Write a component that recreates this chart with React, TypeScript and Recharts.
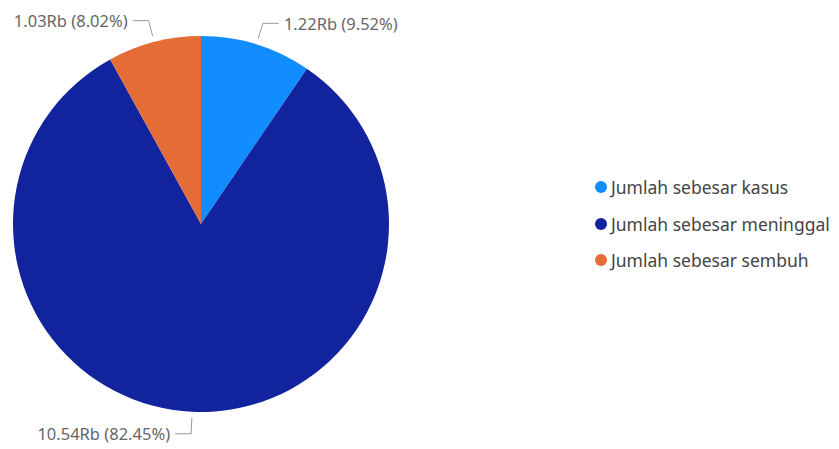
import React from "react";
import { PieChart, Pie, Cell, Legend } from "recharts";

const categories = [
  "Jumlah sebesar kasus",
  "Jumlah sebesar meninggal",
  "Jumlah sebesar sembuh",
];
const values = [1218, 10544, 1026];
const colors = ["#118DFF", "#12239E", "#E66C37"];

const data = categories.map((name, i) => ({ name, value: values[i] }));
const total = values.reduce((a, b) => a + b, 0);

const RADIAN = Math.PI / 180;

const renderLabel = (props: any) => {
  const { cx, cy, midAngle, outerRadius, value } = props;
  const cos = Math.cos(-midAngle * RADIAN);
  const sin = Math.sin(-midAngle * RADIAN);
  const sx = cx + (outerRadius + 6) * cos;
  const sy = cy + (outerRadius + 6) * sin;
  const mx = cx + (outerRadius + 22) * cos;
  const my = cy + (outerRadius + 22) * sin;
  const dir = cos >= 0 ? 1 : -1;
  const ex = mx + dir * 16;
  const text = `${(value / 1000).toFixed(2)}Rb (${((value / total) * 100).toFixed(2)}%)`;
  return (
    <g>
      <polyline
        points={`${sx},${sy} ${mx},${my} ${ex},${my}`}
        fill="none"
        stroke="#999"
        strokeWidth={1}
      />
      <text
        x={ex + dir * 5}
        y={my}
        textAnchor={dir > 0 ? "start" : "end"}
        dominantBaseline="central"
        fill="#666"
        fontSize={16.5}
        fontFamily="'Noto Sans', sans-serif"
      >
        {text}
      </text>
    </g>
  );
};

const renderLegend = (props: any) => {
  const { payload } = props;
  return (
    <div style={{ fontFamily: "'Noto Sans', sans-serif", fontSize: 17.5, color: "#444" }}>
      {payload.map((entry: any, i: number) => (
        <div
          key={i}
          style={{ display: "flex", alignItems: "center", height: 36.5, whiteSpace: "nowrap" }}
        >
          <span
            style={{
              width: 12,
              height: 12,
              borderRadius: 6,
              background: entry.color,
              marginRight: 4,
              display: "inline-block",
              flexShrink: 0,
            }}
          />
          {entry.value}
        </div>
      ))}
    </div>
  );
};

export default function App() {
  return (
    <PieChart width={831} height={441}>
      <Pie
        data={data}
        dataKey="value"
        nameKey="name"
        cx={188}
        cy={211}
        outerRadius={188}
        startAngle={90}
        endAngle={-270}
        stroke="none"
        label={renderLabel}
        labelLine={false}
        isAnimationActive={false}
      >
        {data.map((d, i) => (
          <Cell key={d.name} fill={colors[i]} />
        ))}
      </Pie>
      <Legend
        content={renderLegend}
        layout="vertical"
        wrapperStyle={{ left: 587, top: 161, width: 260 }}
      />
    </PieChart>
  );
}
